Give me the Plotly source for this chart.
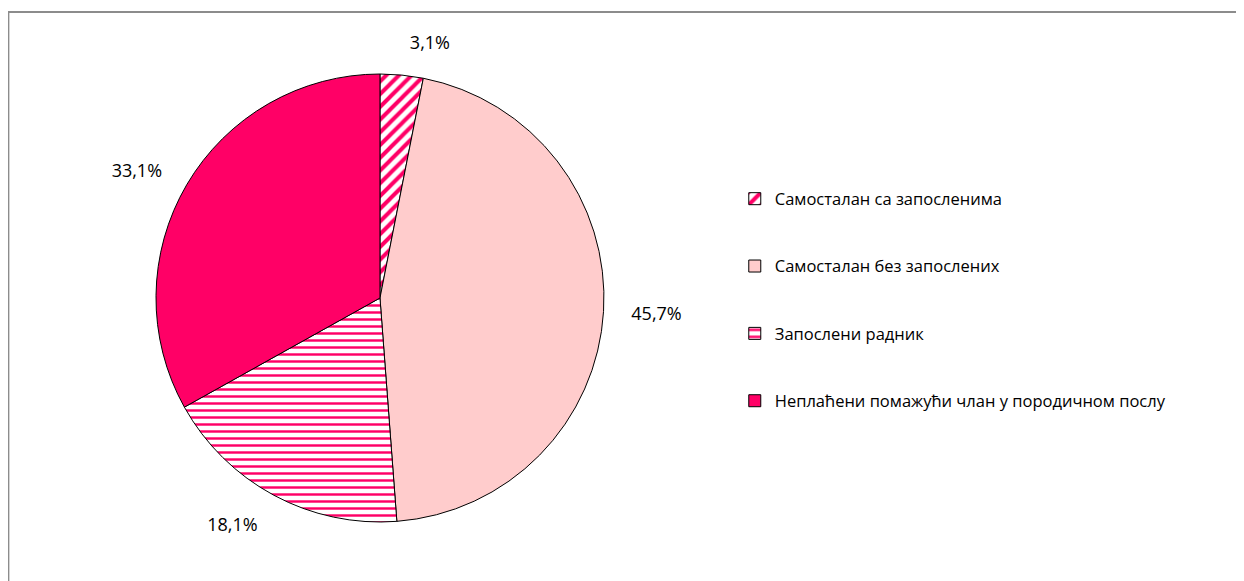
import plotly.graph_objects as go

categories = [
    "Самосталан са запосленима",
    "Самосталан без запослених",
    "Запослени радник",
    "Неплаћени помажући члан у породичном послу",
]
shares = [3.1, 45.7, 18.1, 33.1]

pink = "#FF0066"
light = "#FFCCCC"
fills = ["#FFFFFF", light, "#FFFFFF", pink]

# the page has an 8px body margin, so the figure is sized to end at the window edge
W, H = 1236, 573

legend_labels = ["<br>" + c + "<br>" for c in categories]

fig = go.Figure()
fig.add_trace(go.Pie(
    labels=legend_labels,
    values=shares,
    sort=False,
    direction="clockwise",
    rotation=0,
    textinfo="none",
    marker=dict(
        colors=fills,
        line=dict(color="#000000", width=1),
        pattern=dict(
            shape=["/", "", "-", ""],
            fgcolor=pink,
            bgcolor=fills,
            size=[9, 8, 7, 8],
            solidity=[0.45, 0.3, 0.35, 0.3],
        ),
    ),
    domain=dict(x=[0.1197, 0.4822], y=[0.1030, 0.8848]),
    showlegend=True,
    hoverinfo="skip",
))

# invisible, slightly larger pie that only carries the percentage labels
fig.add_trace(go.Pie(
    labels=legend_labels,
    values=shares,
    sort=False,
    direction="clockwise",
    rotation=0,
    textposition="outside",
    texttemplate="%{value:.1f}%",
    textfont=dict(size=18, color="#000000"),
    marker=dict(colors=["rgba(0,0,0,0)"] * 4, line=dict(width=0)),
    domain=dict(x=[0.1197 - 0.018, 0.4822 + 0.018], y=[0.1030 - 0.038, 0.8848 + 0.038]),
    showlegend=False,
    hoverinfo="skip",
))

fig.add_shape(type="rect", xref="paper", yref="paper",
              x0=0.0003, x1=1.02, y0=-0.05, y1=0.993,
              line=dict(color="#8C8C8C", width=2))

fig.update_layout(
    width=W, height=H,
    margin=dict(l=0, r=0, t=0, b=0),
    paper_bgcolor="white",
    plot_bgcolor="white",
    separators=",.",
    font=dict(family="Open Sans, sans-serif", size=18, color="#000000"),
    legend=dict(x=0.588, y=0.4904, xanchor="left", yanchor="middle",
                font=dict(size=16.5), valign="middle", itemwidth=30,
                bgcolor="rgba(0,0,0,0)"),
)

fig.write_html("out.html")
